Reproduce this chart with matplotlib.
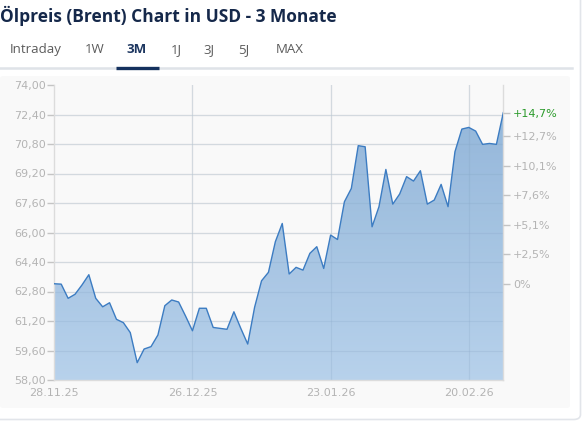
"""
Ölpreis (Brent) Chart in USD - 3 Monate
"""
import numpy as np
import pandas as pd
import matplotlib
matplotlib.use('Agg')
import matplotlib.pyplot as plt
from matplotlib.patches import FancyBboxPatch
from matplotlib.lines import Line2D

# Daten (Schlusskurse, Handelstage 28.11.25 - 27.02.26)
dates = pd.bdate_range('2025-11-28', '2026-02-27')
prices = [63.22, 63.20, 62.43, 62.65, 63.15, 63.71, 62.43, 61.97, 62.19, 61.29,
          61.11, 60.57, 58.94, 59.68, 59.81, 60.44, 62.03, 62.34, 62.23, 61.47,
          60.67, 61.89, 61.89, 60.85, 60.80, 60.75, 61.70, 60.80, 59.95, 61.95,
          63.38, 63.84, 65.50, 66.49, 63.75, 64.11, 63.96, 64.87, 65.23, 64.05,
          65.86, 65.62, 67.67, 68.39, 70.71, 70.65, 66.31, 67.40, 69.42, 67.54,
          68.09, 69.03, 68.79, 69.35, 67.54, 67.76, 68.61, 67.40, 70.38, 71.61,
          71.70, 71.50, 70.78, 70.83, 70.78, 72.50]
y_ticks = [58.00, 59.60, 61.20, 62.80, 64.40, 66.00, 67.60, 69.20, 70.80, 72.40, 74.00]
x_tick_idx = [0, 20, 40, 60]
tabs = ['Intraday', '1W', '3M', '1J', '3J', '5J', 'MAX']
tab_x = [36, 95, 137, 176, 209, 244, 290]

W, H = 582, 421
LINE = '#3c7cc2'
GRID = '#e6e6e6'
LABEL = '#b4b4b4'
NAVY = '#15284a'


def fx(x):
    return x / W


def fy(y):
    return 1 - y / H


fig = plt.figure(figsize=(W / 100, H / 100), dpi=100)
fig.patch.set_facecolor('white')

# Karten-Rahmen (nur rechts/unten sichtbar) und Hintergrund
fig.patches.append(FancyBboxPatch((fx(-20), fy(419.5)), fx(600.5), (419.5 + 30) / H,
                                  boxstyle='round,pad=0,rounding_size=0.012',
                                  transform=fig.transFigure, fc='white', ec='#e2e5ea',
                                  lw=1.2, zorder=-3))
fig.patches.append(FancyBboxPatch((fx(0), fy(408)), fx(570), (408 - 76) / H,
                                  boxstyle='round,pad=0,rounding_size=0.006',
                                  transform=fig.transFigure, fc='#f9f9f9', ec='none',
                                  zorder=-2))

# Titel und Tabs
fig.text(fx(0), fy(16), 'Ölpreis (Brent) Chart in USD - 3 Monate', family='Open Sans',
         fontweight='bold', fontsize=12.5, color=NAVY, va='center', ha='left')
for t, x in zip(tabs, tab_x):
    active = t == '3M'
    fig.text(fx(x), fy(49.5), t, family='Open Sans', fontsize=9.5,
             fontweight='bold' if active else 'normal',
             color='#1d3660' if active else '#5b5b5b', ha='center', va='center')
fig.lines.append(Line2D([fx(0), fx(572)], [fy(68), fy(68)], transform=fig.transFigure,
                        color='#dfe3e8', lw=1.8))
fig.lines.append(Line2D([fx(116), fx(159)], [fy(68), fy(68)], transform=fig.transFigure,
                        color='#15315e', lw=2.4, solid_capstyle='butt'))

# Chart
ax = fig.add_axes([fx(54.3), fy(380), (503.3 - 54.3) / W, 295 / H])
ax.set_facecolor('none')
x = np.arange(len(prices))
ax.set_xlim(0, len(prices) - 1)
ax.set_ylim(58, 74)

for v in y_ticks[1:-1]:
    ax.axhline(v, color=GRID, lw=1, zorder=1)
for i in x_tick_idx[1:]:
    ax.axvline(i, color=GRID, lw=1, zorder=1)

# Fläche mit Farbverlauf
poly = ax.fill_between(x, prices, 58, color='none', lw=0)
grad = np.linspace(0, 1, 256).reshape(-1, 1)
top = np.array([0.54, 0.69, 0.84])
bot = np.array([0.70, 0.81, 0.92])
img = top + (bot - top) * grad
im = ax.imshow(img[:, None, :].repeat(2, axis=1), extent=[0, len(prices) - 1, 58, 74],
               aspect='auto', origin='upper', zorder=2, alpha=0.93)
im.set_clip_path(poly.get_paths()[0], transform=ax.transData)
ax.plot(x, prices, color=LINE, lw=1.0, zorder=3)

for v in y_ticks[1:-1]:
    ax.axhline(v, color='#7f9fc0', lw=0.8, alpha=0.18, zorder=2.5)
for i in x_tick_idx[1:]:
    ax.axvline(i, color='#7f9fc0', lw=0.8, alpha=0.18, zorder=2.5)

ax.spines['top'].set_visible(False)
for s in ['left', 'bottom', 'right']:
    ax.spines[s].set_color('#dcdcdc')
    ax.spines[s].set_linewidth(1)

ax.set_yticks(y_ticks)
ax.set_yticklabels([f'{v:.2f}'.replace('.', ',') for v in y_ticks])
ax.tick_params(axis='y', colors='#c4c4c4', labelcolor=LABEL, length=5, width=1,
               labelsize=8, pad=1)
ax.set_xticks(x_tick_idx)
ax.set_xticklabels([dates[i].strftime('%d.%m.%y') for i in x_tick_idx])
ax.tick_params(axis='x', length=0, labelcolor=LABEL, labelsize=8, pad=6)

# rechte Achse in Prozent
base = prices[0]
ax2 = ax.twinx()
ax2.set_ylim(58, 74)
for s in ax2.spines.values():
    s.set_visible(False)
pct_ticks = [base + 1.6 * k for k in range(6)]
pct_labels = []
for v in pct_ticks:
    p = (v / base - 1) * 100
    pct_labels.append('0%' if abs(p) < 0.05 else f'+{p:.1f}%'.replace('.', ','))
last = prices[-1]
pl = (last / base - 1) * 100
ax2.set_yticks(pct_ticks + [last])
ax2.set_yticklabels(pct_labels + [f'+{pl:.1f}%'.replace('.', ',')])
ax2.tick_params(axis='y', colors='#c4c4c4', labelcolor=LABEL, length=5, width=1,
                labelsize=8, pad=2)
ax2.get_yticklabels()[-1].set_color('#2a9a2a')

plt.savefig('out.png', dpi=100)
plt.close()
